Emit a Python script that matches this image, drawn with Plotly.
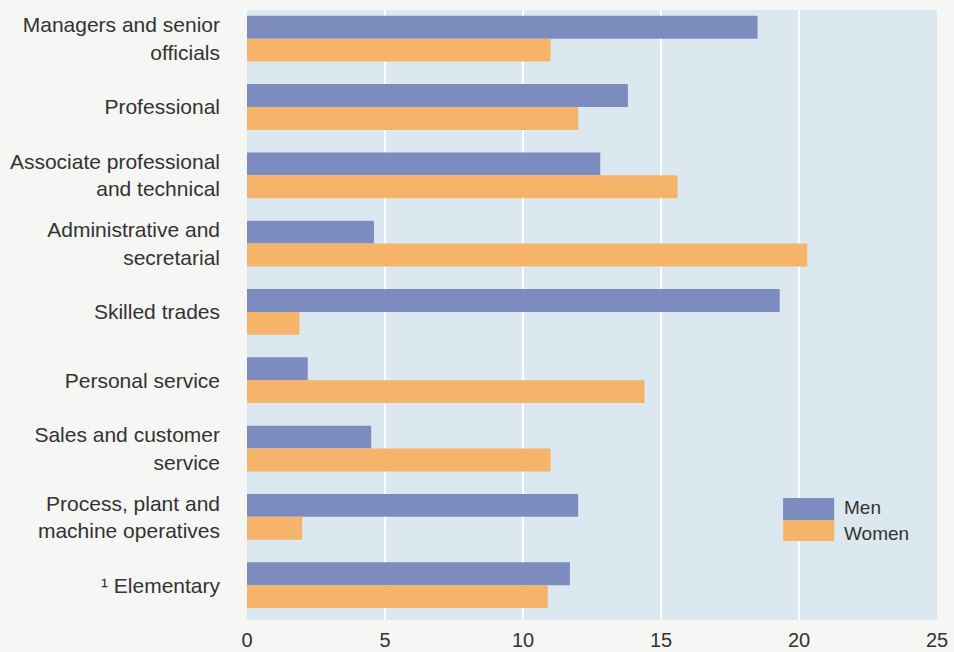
import plotly.graph_objects as go

categories = [
    "Managers and senior<br>officials",
    "Professional",
    "Associate professional<br>and technical",
    "Administrative and<br>secretarial",
    "Skilled trades",
    "Personal service",
    "Sales and customer<br>service",
    "Process, plant and<br>machine operatives",
    "¹ Elementary",
]
men = [18.5, 13.8, 12.8, 4.6, 19.3, 2.2, 4.5, 12.0, 11.7]
women = [11.0, 12.0, 15.6, 20.3, 1.9, 14.4, 11.0, 2.0, 10.9]
xticks = [0, 5, 10, 15, 20, 25]
series_names = ["Men", "Women"]
colors = ["#7d8cbe", "#f5b46a"]

fig = go.Figure()
for name, vals, col in zip(series_names, [men, women], colors):
    fig.add_trace(go.Bar(
        y=categories, x=vals, orientation="h", name=name,
        marker=dict(color=col, line=dict(width=0)), showlegend=False,
    ))

fig.update_layout(
    width=954, height=652,
    margin=dict(l=247, r=17, t=10, b=32),
    paper_bgcolor="#f6f6f4",
    plot_bgcolor="#dbe8ef",
    barmode="group",
    bargap=0.33,
    bargroupgap=0.0,
    font=dict(family="Liberation Sans, Arial, sans-serif", size=20, color="#333333"),
    xaxis=dict(
        range=[0, 25], tickvals=xticks, ticktext=[str(t) for t in xticks],
        showgrid=True, gridcolor="#ffffff", gridwidth=2, zeroline=False,
        showline=False, ticks="", tickfont=dict(size=20),
        ticklabelstandoff=6, automargin=False,
    ),
    yaxis=dict(
        type="category", range=[8.51, -0.42], showgrid=False, zeroline=False,
        showline=False, ticks="", ticklabelstandoff=26, tickfont=dict(size=21),
        automargin=False,
    ),
)

# legend drawn as swatches + labels
fig.add_shape(type="rect", xref="paper", yref="paper", x0=0.777, x1=0.851,
              y0=0.164, y1=0.2, fillcolor=colors[0], line=dict(width=0))
fig.add_shape(type="rect", xref="paper", yref="paper", x0=0.777, x1=0.851,
              y0=0.1295, y1=0.164, fillcolor=colors[1], line=dict(width=0))
fig.add_annotation(xref="paper", yref="paper", x=0.862, y=0.184, text=series_names[0],
                   showarrow=False, xanchor="left", yanchor="middle", font=dict(size=19))
fig.add_annotation(xref="paper", yref="paper", x=0.862, y=0.141, text=series_names[1],
                   showarrow=False, xanchor="left", yanchor="middle", font=dict(size=19))

fig.write_html("out.html", config={"displayModeBar": False},
               post_script="document.body.style.margin='0';")
